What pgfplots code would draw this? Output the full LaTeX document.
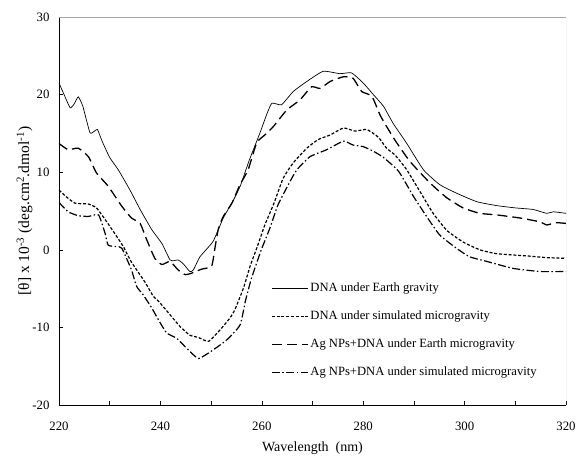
\documentclass[border=0pt]{standalone}
\usepackage{fontspec}
\setmainfont{Liberation Serif}
\usepackage{pgfplots}
\pgfplotsset{compat=1.18}
\begin{document}
\begin{tikzpicture}[font=\fontsize{12.6}{14.5}\selectfont]
\path[use as bounding box] (-59pt,-51pt) rectangle (519pt,405pt);
\begin{axis}[
  at={(0pt,0pt)}, anchor=south west,
  scale only axis, width=507pt, height=388pt,
  xmin=220, xmax=320, ymin=-20, ymax=30,
  axis x line*=bottom, axis y line*=left,
  axis line style={black, line width=0.8pt},
  xtick={220,240,...,320}, minor xtick={230,250,...,310},
  ytick={-20,-10,...,30},
  tick align=inside, major tick length=4pt, minor tick length=4pt,
  tick style={black, line width=0.6pt},
  tick label style={font=\fontsize{12.8}{14.5}\selectfont},
  /pgf/number format/assume math mode=true,
  xticklabel style={yshift=-13.5pt},
  yticklabel style={xshift=-6pt},
  every axis x label/.style={at={(axis description cs:0.5,-0.112)}, anchor=center},
  every axis y label/.style={at={(axis description cs:-0.068,0.5)}, rotate=90, anchor=center},
  xlabel style={font=\fontsize{14}{16}\selectfont},
  ylabel style={font=\fontsize{15.5}{17}\selectfont},
  xlabel={Wavelength\ \ (nm)},
  ylabel={[θ] x 10\textsuperscript{-3} (deg.cm\textsuperscript{2}.dmol\textsuperscript{-1})},
  legend style={at={(rel axis cs:0.418,0.322)}, anchor=north west, draw=none, fill=none,
    inner sep=0pt, row sep=12pt, font=\fontsize{12.6}{14.5}\selectfont,
    nodes={inner sep=2pt, text height=9pt, text depth=3pt, anchor=west}},
  legend cell align=left,
  legend image code/.code={\draw[#1] (0pt,0pt) -- (36pt,0pt);},
]
\draw[gray!70, line width=0.5pt] (rel axis cs:0,1) -- (rel axis cs:1,1) -- (rel axis cs:1,0);
% DNA under Earth gravity
\addplot[black, line width=0.7pt, smooth, tension=0.3] coordinates {
(220,21.5) (221,20.0) (222.2,18.3) (223,18.8) (223.8,19.7) (224.7,18.5) (226.1,15.1)
(227,15.3) (227.6,15.5) (228.5,14.0) (230,11.9) (231.7,10.3) (234,7.7) (236,5.2)
(238.3,2.6) (240.3,0.8) (241.9,-1.3) (242.7,-1.4) (243.5,-1.3) (244.5,-1.8) (245.8,-2.8)
(246.5,-2.6) (247.8,-0.9) (250.4,1.1) (252.4,4.1) (254.4,6.4) (255.8,8.3) (257.5,11.5)
(259.6,15.0) (261,17.5) (262,18.9) (263.9,18.7) (266.2,20.4) (268.9,21.7) (272.1,23.0)
(275.4,22.7) (277.7,22.8) (280,21.5) (282,20.0) (284,18.5) (285.9,16.3) (288.6,13.7)
(291.9,10.3) (295.1,8.4) (298.4,7.3) (302.4,6.2) (306.3,5.7) (310,5.4) (313.5,5.2)
(316.2,4.7) (317.5,4.9) (320,4.7)
};
\addlegendentry{DNA under Earth gravity}
% DNA under simulated microgravity
\addplot[black, line width=1.2pt, dash pattern=on 3pt off 1.8pt, smooth, tension=0.3] coordinates {
(220,7.7) (221.5,6.8) (223.2,6.0) (225.8,5.9) (227.4,5.4) (229.1,3.9) (231,2.1)
(232.7,0.4) (234.3,-1.6) (237,-4.2) (238.6,-6.0) (239.6,-6.6) (242.2,-8.6) (243.9,-9.9)
(245.8,-11.0) (247.5,-11.3) (249.5,-11.8) (251.8,-10.3) (253.7,-8.8) (254.7,-7.7)
(256.4,-4.9) (257.7,-2.1) (259,0.2) (260.6,3.2) (262.4,6.0) (264.2,9.2) (266.2,11.2)
(268.9,13.1) (271.1,14.2) (273.5,14.8) (276.1,15.7) (278.4,15.3) (280.7,15.5) (283,14.5)
(284.6,13.1) (286.3,12.2) (288.6,10.3) (291.2,7.5) (293.8,4.7) (296.5,2.5) (299.7,1.0)
(303,0.0) (306.3,-0.5) (312.5,-0.8) (316,-1.0) (320,-1.1)
};
\addlegendentry{DNA under simulated microgravity}
% Ag NPs+DNA under Earth microgravity
\addplot[black, line width=1.3pt, dash pattern=on 10pt off 5pt, smooth, tension=0.3] coordinates {
(220,13.7) (221.8,12.9) (223.8,13.1) (225.8,12.0) (227.4,9.9) (229.7,8.2) (232.4,5.6)
(234.3,4.1) (236,3.4) (237.3,1.3) (238.9,-1.1) (240.3,-1.9) (241.9,-1.5) (243.5,-2.6)
(244.9,-3.2) (246.2,-3.0) (248.1,-2.5) (250.1,-2.1) (250.8,0.4) (251.4,2.6) (252.4,4.3)
(254.1,6.0) (255.7,8.4) (257.3,10.3) (259,13.8) (260.6,14.8) (262.3,15.9) (264.9,18.0)
(267.5,19.3) (269.8,21.0) (271.5,20.8) (273.5,21.7) (276.1,22.3) (278,22.1) (279.7,20.4)
(281.7,19.8) (283.3,17.4) (284.6,15.9) (286.5,13.9) (289.2,11.4) (293.2,8.6) (296.5,6.7)
(299.7,5.4) (303,4.7) (306.3,4.5) (310.9,4.1) (314.9,3.6) (316.2,3.2) (318,3.5) (320,3.4)
};
\addlegendentry{Ag NPs+DNA under Earth microgravity}
% Ag NPs+DNA under simulated microgravity
\addplot[black, line width=1.2pt, dash pattern=on 8pt off 2.5pt on 1.5pt off 2.5pt, smooth, tension=0.3] coordinates {
(220,6.1) (221.8,4.9) (223.8,4.4) (225.8,4.3) (227.8,4.5) (229.1,2.1) (229.7,0.6)
(231.4,0.4) (232.4,0.2) (234.3,-2.6) (235.3,-4.7) (236.6,-5.8) (238.3,-7.5) (239.6,-9.0)
(241.2,-10.7) (243.2,-11.4) (245.2,-12.7) (247.5,-14.0) (250.4,-12.9) (253.1,-11.6)
(255.7,-9.7) (256.8,-6.5) (258,-3.6) (259.9,0.0) (261.6,2.8) (263.2,5.8) (265.4,8.6)
(266.9,10.3) (269.5,12.0) (272.8,12.9) (276.1,14.0) (278,13.5) (280,13.3) (282,12.7)
(284,11.9) (287,10.1) (289.9,6.9) (292.5,4.3) (295.1,1.9) (298.4,0.2) (301,-0.9)
(304.4,-1.5) (309.6,-2.4) (314.9,-2.8) (320,-2.8)
};
\addlegendentry{Ag NPs+DNA under simulated microgravity}
\end{axis}
\end{tikzpicture}
\end{document}
